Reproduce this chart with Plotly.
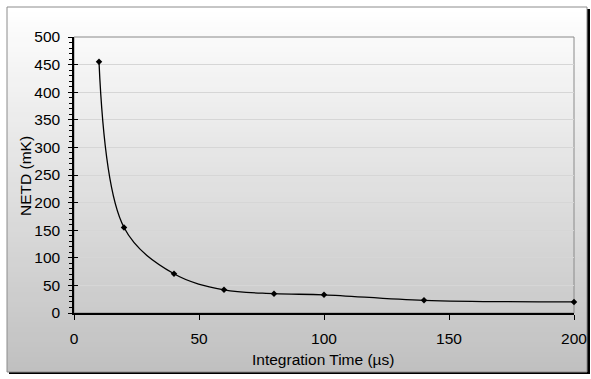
import plotly.graph_objects as go

# Data
integration_time_us = [10, 20, 40, 60, 80, 100, 140, 200]
netd_mk = [455, 155, 71, 42, 35, 33, 23, 20]

x_ticks = [0, 50, 100, 150, 200]
y_ticks = [0, 50, 100, 150, 200, 250, 300, 350, 400, 450, 500]

W, H = 591, 379
FONT = "Liberation Sans, Arial, sans-serif"
FS = 15.5

# plot area in pixels
PL, PR, PT, PB = 74, 574, 37, 313


def px(x):
    return x / W


def py(y):
    return 1 - y / H


shapes = []
# shadow of the chart area
shapes.append(dict(type="rect", xref="paper", yref="paper",
                   x0=px(9), x1=px(590), y0=py(374), y1=py(9),
                   fillcolor="#000000", line=dict(width=0), layer="below"))
# gradient chart area built from bands
top, bot = 7, 372
n = 73
c_top, c_bot = 255, 192
for i in range(n):
    y0 = top + (bot - top) * i / n
    y1 = top + (bot - top) * (i + 1) / n
    c = round(c_top + (c_bot - c_top) * (i + 0.5) / n)
    shapes.append(dict(type="rect", xref="paper", yref="paper",
                       x0=px(7), x1=px(587), y0=py(min(y1 + 0.5, bot)), y1=py(y0),
                       fillcolor=f"rgb({c},{c},{c})", line=dict(width=0),
                       layer="below"))
# chart area border
shapes.append(dict(type="rect", xref="paper", yref="paper",
                   x0=px(7), x1=px(587), y0=py(372), y1=py(7),
                   fillcolor="rgba(0,0,0,0)", line=dict(color="#8c8c8c", width=1),
                   layer="below"))
# plot area border (top / right visible in gray)
shapes.append(dict(type="rect", xref="x domain", yref="y domain",
                   x0=0, x1=1, y0=0, y1=1,
                   fillcolor="rgba(0,0,0,0)", line=dict(color="#8a8a8a", width=1),
                   layer="below"))

fig = go.Figure()
fig.add_trace(go.Scatter(
    x=integration_time_us, y=netd_mk, mode="lines+markers",
    line=dict(color="#000000", width=1.3, shape="spline", smoothing=1.0),
    marker=dict(symbol="diamond", size=5, color="#000000"),
    showlegend=False, cliponaxis=False,
))
# inside part of crossing y ticks
fig.add_trace(go.Scatter(x=[None], y=[None], xaxis="x", yaxis="y2",
                         showlegend=False, hoverinfo="skip"))

fig.update_layout(
    width=W, height=H, autosize=False,
    margin=dict(l=0, r=0, t=0, b=0, pad=0),
    paper_bgcolor="#ffffff",
    plot_bgcolor="rgba(0,0,0,0)",
    font=dict(family=FONT, size=FS, color="#000000"),
    shapes=shapes,
    xaxis=dict(
        domain=[px(PL), px(PR)], range=[0, 200], automargin=False,
        tickvals=x_ticks, ticktext=[str(v) for v in x_ticks],
        ticks="outside", ticklen=5, tickwidth=1, tickcolor="#000000",
        showline=True, linecolor="#000000", linewidth=1.5,
        showgrid=False, zeroline=False,
        tickfont=dict(size=FS, family=FONT), ticklabelstandoff=6,
    ),
    yaxis=dict(
        domain=[py(PB), py(PT)], range=[0, 500], automargin=False,
        tickvals=y_ticks, ticktext=[str(v) for v in y_ticks],
        ticks="outside", ticklen=4, tickwidth=1, tickcolor="#000000",
        showline=True, linecolor="#000000", linewidth=1.5,
        showgrid=True, gridcolor="#d6d6d6", gridwidth=1, zeroline=False,
        minor=dict(dtick=10, ticks="outside", ticklen=3, tickcolor="#000000",
                   tickwidth=1, showgrid=False),
        tickfont=dict(size=FS, family=FONT), ticklabelstandoff=5,
    ),
    yaxis2=dict(
        overlaying="y", range=[0, 500], tickvals=y_ticks, automargin=False,
        ticks="inside", ticklen=4, tickwidth=1, tickcolor="#000000",
        showticklabels=False, showgrid=False, zeroline=False,
        showline=False, side="left",
    ),
    annotations=[
        dict(text="Integration Time (µs)", xref="paper", yref="paper",
             x=px(323), y=py(359), showarrow=False,
             xanchor="center", yanchor="middle",
             font=dict(size=FS, family=FONT, color="#000000")),
        dict(text="NETD (mK)", xref="paper", yref="paper",
             x=px(25), y=py(176), showarrow=False, textangle=-90,
             xanchor="center", yanchor="middle",
             font=dict(size=FS, family=FONT, color="#000000")),
    ],
)

fig.write_html(
    "out.html",
    config={"displayModeBar": False},
    post_script="document.body.style.margin='0';document.body.style.padding='0';"
                "document.documentElement.style.overflow='hidden';",
)
